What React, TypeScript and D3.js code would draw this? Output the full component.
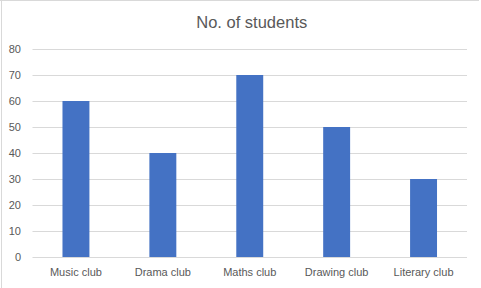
import React from "react";
import * as d3 from "d3";

const categories = ["Music club", "Drama club", "Maths club", "Drawing club", "Literary club"];
const values = [60, 40, 70, 50, 30];
const yTicks = [0, 10, 20, 30, 40, 50, 60, 70, 80];
const title = "No. of students";

export default function App() {
  const W = 481, H = 288;
  const left = 32.5, right = 467, top = 49, bottom = 257;
  const x = d3.scaleBand<string>().domain(categories).range([left, right]).paddingInner(0.69).paddingOuter(0.345);
  const y = d3.scaleLinear().domain([0, 80]).range([bottom, top]);
  const font = "'Liberation Sans', Arial, sans-serif";
  return (
    <div style={{ position: "fixed", left: 0, top: 0 }}>
      <svg width={W} height={H} style={{ display: "block", background: "#fff" }} fontFamily={font}>
        <line x1={0} x2={479} y1={0.5} y2={0.5} stroke="#d9d9d9" />
        <line x1={1.5} x2={1.5} y1={0} y2={H} stroke="#d9d9d9" />
        <text x={(left + right) / 2 + 2} y={28} textAnchor="middle" fontSize={16.5} fill="#595959">{title}</text>
        {yTicks.map((t) => (
          <g key={t}>
            <line x1={left} x2={right} y1={Math.round(y(t)) + 0.5} y2={Math.round(y(t)) + 0.5} stroke="#d9d9d9" />
            <text x={21} y={y(t) + 4} textAnchor="end" fontSize={11} fill="#595959">{t}</text>
          </g>
        ))}
        {categories.map((c, i) => (
          <rect key={c} x={x(c)} y={y(values[i])} width={x.bandwidth()} height={y(0) - y(values[i])} fill="#4472c4" />
        ))}
        {categories.map((c) => (
          <text key={c} x={(x(c) as number) + x.bandwidth() / 2} y={276} textAnchor="middle" fontSize={11} fill="#595959">{c}</text>
        ))}
      </svg>
    </div>
  );
}
